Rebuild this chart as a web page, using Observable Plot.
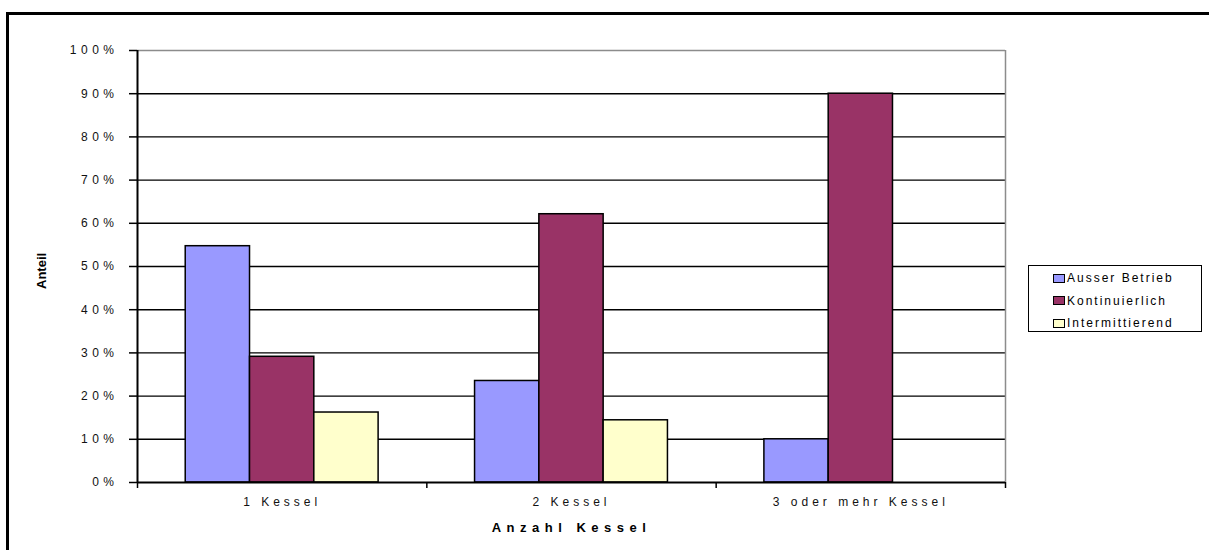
<!DOCTYPE html>
<html>
<head>
<meta charset="utf-8">
<script src="https://cdn.jsdelivr.net/npm/d3@7"></script>
<script src="https://cdn.jsdelivr.net/npm/@observablehq/plot@0.6"></script>
<style>
  html, body { margin: 0; padding: 0; background: #fff; }
  #wrap { position: relative; width: 1209px; height: 550px; overflow: hidden;
          font-family: "Liberation Sans", Arial, sans-serif; }
  #border { position: absolute; left: 6px; top: 12px; right: 0; bottom: 0;
            border-top: 3px solid #000; border-left: 3px solid #000; }
  #chart { position: absolute; left: 0; top: 0; }
  #legend { position: absolute; left: 1028px; top: 265px; width: 172px; height: 65px;
            border: 1.5px solid #000; background: #fff; box-sizing: content-box; }
  .row { position: absolute; left: 24px; display: flex; align-items: center;
         font-size: 12px; letter-spacing: 2px; color: #000; white-space: nowrap; }
  .sw { display: inline-block; width: 10px; height: 7px; border: 1.5px solid #000;
        margin-right: 2px; }
</style>
</head>
<body>
<div id="wrap">
  <div id="border"></div>
  <div id="chart"></div>
  <div id="legend"></div>
</div>
<script>
// Share of boiler operating modes by number of boilers
const categories = ["1 Kessel", "2 Kessel", "3 oder mehr Kessel"];
const series = ["Ausser Betrieb", "Kontinuierlich", "Intermittierend"];
const colors = ["#9999ff", "#993366", "#ffffcc"];
const ausserBetrieb = [0.547, 0.235, 0.100];
const kontinuierlich = [0.291, 0.621, 0.900];
const intermittierend = [0.162, 0.144, null];
const yTicks = [0, 0.1, 0.2, 0.3, 0.4, 0.5, 0.6, 0.7, 0.8, 0.9, 1.0];
const yTickLabels = ["0%", "10%", "20%", "30%", "40%", "50%", "60%", "70%", "80%", "90%", "100%"];
const xTitle = "Anzahl Kessel";
const yTitle = "Anteil";

const values = [ausserBetrieb, kontinuierlich, intermittierend];

// Clustered columns: each category occupies one unit on x; a gap of
// 150% of one column width separates neighbouring clusters.
const gapWidth = 1.5;
const slots = series.length + gapWidth;
const rows = categories.flatMap((category, ci) =>
  series.map((s, si) => ({
    category, series: s, value: values[si][ci],
    x1: ci + (gapWidth / 2 + si) / slots,
    x2: ci + (gapWidth / 2 + si + 1) / slots
  }))
).filter(d => d.value != null);

const boundaries = d3.range(categories.length + 1);
const font = '"Liberation Sans", Arial, sans-serif';

const chart = Plot.plot({
  width: 1209,
  height: 550,
  marginLeft: 137,
  marginRight: 204,
  marginTop: 50,
  marginBottom: 68,
  x: {domain: [0, categories.length], axis: null},
  y: {domain: [0, 1], axis: null},
  color: {domain: series, range: colors},
  style: {fontFamily: font, background: "transparent", overflow: "visible"},
  marks: [
    // horizontal gridlines
    Plot.ruleY(yTicks.slice(1, -1), {stroke: "#000", strokeWidth: 1.4}),
    // plot area border (top and right)
    Plot.ruleY([1], {stroke: "#8c8c8c", strokeWidth: 1.5}),
    Plot.ruleX([categories.length], {stroke: "#8c8c8c", strokeWidth: 1.5}),
    // columns
    Plot.rect(rows, {
      x1: "x1", x2: "x2", y1: 0, y2: "value",
      fill: "series", stroke: "#000", strokeWidth: 1.5
    }),
    // axes lines
    Plot.ruleX([0], {stroke: "#000", strokeWidth: 2}),
    Plot.ruleY([0], {stroke: "#000", strokeWidth: 2}),
    // y ticks
    Plot.ruleY(yTicks, {y: d => d, x1: 0, x2: 0, insetLeft: -8, stroke: "#000", strokeWidth: 1.5}),
    // x ticks at category boundaries
    Plot.ruleX(boundaries, {x: d => d, y1: 0, y2: 0, insetBottom: -6, stroke: "#000", strokeWidth: 1.5}),
    // y tick labels
    Plot.text(yTicks, {
      x: 0, y: d => d, text: (d, i) => yTickLabels[i],
      textAnchor: "end", dx: -19, fontSize: 12, fill: "#111"
    }),
    // category labels
    Plot.text(categories, {
      x: (d, i) => i + 0.5, y: 0, text: d => d,
      dy: 20, fontSize: 12, fill: "#111"
    }),
    // axis titles
    Plot.text([xTitle], {
      frameAnchor: "bottom", dy: 49, text: d => d,
      fontSize: 13, fontWeight: "bold", fill: "#000"
    }),
    Plot.text([yTitle], {
      frameAnchor: "left", dx: -96, dy: 22.5, rotate: -90, text: d => d,
      fontSize: 13, fontWeight: "bold", fill: "#000"
    })
  ]
});
document.getElementById("chart").appendChild(chart);

// wide letter spacing of the axis texts
const spacing = new Map([[xTitle, 5.5], [yTitle, 0]]);
categories.forEach(c => spacing.set(c, 4));
yTickLabels.forEach(t => spacing.set(t, 4.5));
d3.select(chart).selectAll("text").each(function () {
  const s = spacing.get(this.textContent);
  if (s != null) this.style.letterSpacing = s + "px";
});

// legend
const legend = document.getElementById("legend");
series.forEach((s, i) => {
  const row = document.createElement("div");
  row.className = "row";
  row.style.top = (5 + i * 22.5) + "px";
  const sw = document.createElement("span");
  sw.className = "sw";
  sw.style.background = colors[i];
  row.appendChild(sw);
  row.appendChild(document.createTextNode(s));
  legend.appendChild(row);
});
</script>
</body>
</html>
